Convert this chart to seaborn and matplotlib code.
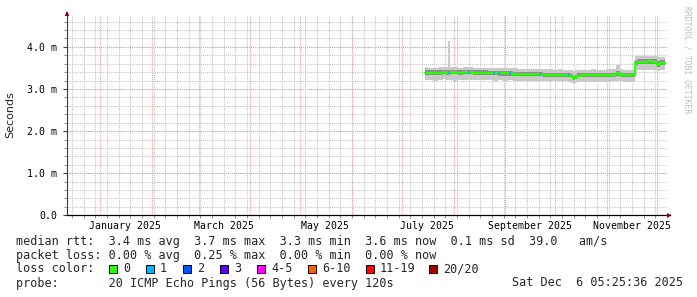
import numpy as np
import pandas as pd
import matplotlib
matplotlib.use("Agg")
import matplotlib.pyplot as plt
import matplotlib.dates as mdates
from matplotlib.ticker import MultipleLocator, FixedLocator
from matplotlib.patches import Rectangle
import seaborn as sns

# ---------------- data (milliseconds) ----------------
dates = ["2025-07-15", "2025-07-18", "2025-07-21", "2025-07-24", "2025-07-27",
         "2025-07-28", "2025-07-29", "2025-07-30", "2025-08-02", "2025-08-05",
         "2025-08-08", "2025-08-11", "2025-08-14", "2025-08-17", "2025-08-20",
         "2025-08-23", "2025-08-26", "2025-08-29", "2025-09-01", "2025-09-04",
         "2025-09-07", "2025-09-10", "2025-09-13", "2025-09-16", "2025-09-19",
         "2025-09-22", "2025-09-25", "2025-09-28", "2025-10-01", "2025-10-04",
         "2025-10-07", "2025-10-10", "2025-10-11", "2025-10-12", "2025-10-13",
         "2025-10-15", "2025-10-18", "2025-10-21", "2025-10-24", "2025-10-27",
         "2025-10-30", "2025-11-02", "2025-11-05", "2025-11-08", "2025-11-09",
         "2025-11-12", "2025-11-15", "2025-11-17", "2025-11-18", "2025-11-21",
         "2025-11-24", "2025-11-27", "2025-11-30", "2025-12-02", "2025-12-03",
         "2025-12-06"]
median_rtt = [3.38, 3.38, 3.38, 3.39, 3.40, 3.39, 3.40, 3.40, 3.40, 3.39,
              3.40, 3.40, 3.39, 3.39, 3.39, 3.38, 3.38, 3.37, 3.37, 3.37,
              3.36, 3.36, 3.35, 3.35, 3.35, 3.35, 3.34, 3.34, 3.34, 3.34,
              3.34, 3.33, 3.30, 3.26, 3.29, 3.32, 3.33, 3.33, 3.33, 3.33,
              3.33, 3.33, 3.34, 3.38, 3.34, 3.33, 3.33, 3.33, 3.64, 3.65,
              3.65, 3.66, 3.65, 3.57, 3.62, 3.62]
smoke_min = [3.22, 3.22, 3.20, 3.22, 3.23, 3.22, 3.22, 3.22, 3.20, 3.22,
             3.22, 3.21, 3.22, 3.22, 3.21, 3.22, 3.20, 3.21, 3.20, 3.21,
             3.20, 3.20, 3.19, 3.19, 3.19, 3.18, 3.18, 3.18, 3.18, 3.18,
             3.18, 3.17, 3.15, 3.12, 3.14, 3.17, 3.17, 3.17, 3.17, 3.17,
             3.17, 3.17, 3.18, 3.20, 3.18, 3.17, 3.17, 3.17, 3.45, 3.45,
             3.44, 3.45, 3.45, 3.42, 3.44, 3.44]
smoke_q1 = [3.33, 3.33, 3.33, 3.34, 3.35, 3.34, 3.34, 3.35, 3.35, 3.34,
            3.35, 3.35, 3.34, 3.34, 3.34, 3.33, 3.33, 3.32, 3.32, 3.32,
            3.31, 3.31, 3.30, 3.30, 3.30, 3.30, 3.29, 3.29, 3.29, 3.29,
            3.29, 3.28, 3.26, 3.22, 3.24, 3.28, 3.28, 3.28, 3.28, 3.28,
            3.28, 3.28, 3.29, 3.31, 3.29, 3.28, 3.28, 3.28, 3.58, 3.59,
            3.59, 3.60, 3.59, 3.53, 3.57, 3.57]
smoke_q3 = [3.44, 3.44, 3.44, 3.45, 3.45, 3.45, 3.46, 3.45, 3.45, 3.45,
            3.45, 3.45, 3.44, 3.44, 3.44, 3.43, 3.43, 3.42, 3.42, 3.42,
            3.41, 3.41, 3.40, 3.40, 3.40, 3.40, 3.39, 3.39, 3.39, 3.39,
            3.39, 3.38, 3.36, 3.32, 3.34, 3.37, 3.38, 3.38, 3.38, 3.38,
            3.38, 3.38, 3.39, 3.43, 3.39, 3.38, 3.38, 3.38, 3.70, 3.71,
            3.71, 3.72, 3.71, 3.66, 3.69, 3.69]
smoke_max = [3.52, 3.50, 3.51, 3.52, 3.52, 3.52, 4.15, 3.52, 3.52, 3.51,
             3.52, 3.52, 3.51, 3.50, 3.51, 3.50, 3.51, 3.50, 3.49, 3.50,
             3.49, 3.48, 3.48, 3.47, 3.47, 3.48, 3.47, 3.47, 3.46, 3.47,
             3.46, 3.46, 3.44, 3.42, 3.44, 3.46, 3.46, 3.46, 3.47, 3.46,
             3.46, 3.47, 3.48, 3.56, 3.47, 3.46, 3.46, 3.46, 3.78, 3.79,
             3.78, 3.79, 3.78, 3.76, 3.77, 3.77]

loss1_dates = ["2025-07-29", "2025-08-10", "2025-08-25", "2025-08-28",
               "2025-09-04", "2025-09-22", "2025-10-09"]
loss1_rtt = [3.40, 3.40, 3.38, 3.37, 3.37, 3.35, 3.33]

y_ticks = [0, 1, 2, 3, 4]
y_tick_labels = ["0.0", "1.0 m", "2.0 m", "3.0 m", "4.0 m"]
x_label_months = ["2025-01-16", "2025-03-16", "2025-05-16", "2025-07-16",
                  "2025-09-16", "2025-11-16"]
x_tick_labels = ["January 2025", "March 2025", "May 2025", "July 2025",
                 "September 2025", "November 2025"]

loss_names = ["0", "1", "2", "3", "4-5", "6-10", "11-19", "20/20"]
loss_colors = ["#26ff00", "#00b8ff", "#0059ff", "#5e00ff", "#ff00ff",
               "#ff5e00", "#ff0000", "#a10000"]

line1 = "median rtt:  3.4 ms avg  3.7 ms max  3.3 ms min  3.6 ms now  0.1 ms sd  39.0   am/s"
line2 = "packet loss: 0.00 % avg  0.25 % max  0.00 % min  0.00 % now"
line3 = "loss color:"
line4 = "probe:       20 ICMP Echo Pings (56 Bytes) every 120s"
stamp = "Sat Dec  6 05:25:36 2025"
watermark = "RRDTOOL / TOBI OETIKER"

# ---------------- frame ----------------
df = pd.DataFrame({"date": pd.to_datetime(dates), "median": median_rtt,
                   "lo": smoke_min, "q1": smoke_q1, "q3": smoke_q3,
                   "hi": smoke_max})
loss_df = pd.DataFrame({"date": pd.to_datetime(loss1_dates), "rtt": loss1_rtt})

sns.set_theme(style="white")
plt.rcParams["font.family"] = ["DejaVu Sans Mono", "DejaVu Sans"]

W, H = 697, 297
fig = plt.figure(figsize=(W / 100, H / 100), dpi=100)
fig.patch.set_facecolor("white")
x0, x1, y0, y1 = 67, 667, 215.3, 14.5
ax = fig.add_axes([x0 / W, 1 - y0 / H, (x1 - x0) / W, (y0 - y1) / H])
ax.set_facecolor("white")

xmin = pd.Timestamp("2024-12-12")
xmax = pd.Timestamp("2025-12-07")
ax.set_xlim(xmin, xmax)
ax.set_ylim(0, 4.77)

# grid
minor_col = "#c4c4c4"
major_col = "#eaa0a0"
dot = (0, (1, 1))
for d in pd.date_range(xmin, xmax, freq="W-SUN"):
    ax.axvline(d, color=minor_col, lw=0.75, ls=dot, zorder=0)
for v in np.arange(0.2, 4.77, 0.2):
    ax.axhline(v, color=minor_col, lw=0.75, ls=dot, zorder=0)
for d in pd.date_range(xmin, xmax, freq="MS"):
    ax.axvline(d, color=major_col, lw=0.75, ls=dot, zorder=0.5)
for v in y_ticks[1:]:
    ax.axhline(v, color=major_col, lw=0.75, ls=dot, zorder=0.5)

# smoke
ax.fill_between(df["date"], df["lo"], df["hi"], step="mid",
                color="#c9c9c9", lw=0, zorder=2)
ax.fill_between(df["date"], df["q1"], df["q3"], step="mid",
                color="#8e8e8e", lw=0, zorder=3)

# median
sns.lineplot(data=df, x="date", y="median", ax=ax, color="#202020",
             lw=0.7, drawstyle="steps-mid", zorder=4, legend=False)
sns.lineplot(data=df, x="date", y="median", ax=ax, color=loss_colors[0],
             lw=1.6, drawstyle="steps-mid", zorder=5, legend=False)
sns.scatterplot(data=loss_df, x="date", y="rtt", ax=ax, color=loss_colors[1],
                marker="s", s=2.5, linewidth=0, zorder=6, legend=False)

# axes styling
for s in ["top", "right"]:
    ax.spines[s].set_visible(False)
ax.spines["left"].set_color("#404040")
ax.spines["left"].set_linewidth(0.8)
ax.spines["bottom"].set_color("#000000")
ax.spines["bottom"].set_linewidth(0.9)
ax.spines["bottom"].set_bounds(mdates.date2num(xmin),
                               mdates.date2num(xmax) + 2.0)
ax.spines["left"].set_bounds(0, 4.83)

ax.yaxis.set_major_locator(FixedLocator(y_ticks))
ax.set_yticklabels(y_tick_labels)
ax.yaxis.set_minor_locator(MultipleLocator(0.2))
ax.xaxis.set_major_locator(FixedLocator(mdates.date2num(pd.to_datetime(x_label_months))))
ax.set_xticklabels(x_tick_labels)
ax.xaxis.set_minor_locator(mdates.WeekdayLocator(byweekday=mdates.SU))
ax.tick_params(axis="x", which="major", length=0, pad=4, labelsize=7.1,
               labelcolor="#000000")
ax.tick_params(axis="x", which="minor", length=2, width=0.6, color="#808080",
               direction="out", bottom=True)
ax.tick_params(axis="y", which="major", length=3, width=0.8, color="#404040",
               pad=4, labelsize=7.1, labelcolor="#000000", left=True)
ax.tick_params(axis="y", which="minor", length=2, width=0.6, color="#808080",
               left=True)
ax.set_xlabel("")
ax.set_ylabel("Seconds", fontsize=8, family="DejaVu Sans", labelpad=9)

# arrows
ax.annotate("", xy=(0, 1.03), xycoords="axes fraction", xytext=(0, 0.99),
            arrowprops=dict(arrowstyle="-|>", color="#8b0000", lw=0.6,
                            mutation_scale=6), annotation_clip=False)
ax.annotate("", xy=(1.008, 0), xycoords="axes fraction", xytext=(1.0, 0),
            arrowprops=dict(arrowstyle="-|>", color="#8b0000", lw=0.6,
                            mutation_scale=6), annotation_clip=False)

# watermark
fig.text(687 / W, 1 - 60 / H, watermark, rotation=270, ha="center",
         va="center", fontsize=5.8, color="#bdbdbd", family="DejaVu Sans Mono")

# legend text
fs = 8.5
def px(x, y):
    return x / W, 1 - y / H

fig.text(*px(16, 241), line1, fontsize=fs, va="center", ha="left")
fig.text(*px(16, 255), line2, fontsize=fs, va="center", ha="left")
fig.text(*px(16, 269), line3, fontsize=fs, va="center", ha="left")
fig.text(*px(16, 283), line4, fontsize=fs, va="center", ha="left")
fig.text(*px(683, 283), stamp, fontsize=fs, va="center", ha="right")

box_x = [108.5, 145.5, 182.5, 219.5, 257.0, 307.5, 365.5, 429.0]
for bx, name, col in zip(box_x, loss_names, loss_colors):
    fig.patches.append(Rectangle((bx / W, 1 - 273 / H), 8 / W, 8.5 / H,
                                 transform=fig.transFigure, facecolor=col,
                                 edgecolor="#000000", lw=0.7))
    fig.text(*px(bx + 14.5, 269), name, fontsize=fs, va="center", ha="left")

fig.savefig("out.png", dpi=100)
